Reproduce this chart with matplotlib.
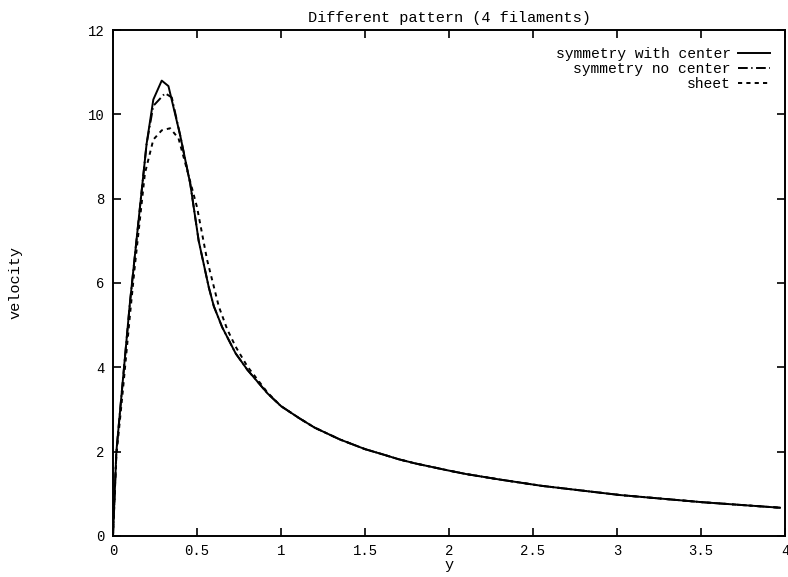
import numpy as np
import matplotlib.pyplot as plt

plt.rcParams['font.family'] = ['Liberation Mono', 'DejaVu Sans Mono']
plt.rcParams['lines.scale_dashes'] = False

# velocity profiles, read at the computed y positions
y_center = [0, 0.02, 0.10, 0.20, 0.24, 0.29, 0.33, 0.40, 0.46, 0.51, 0.57, 0.60,
            0.65, 0.73, 0.80, 0.92, 1.00, 1.11, 1.20, 1.35, 1.50, 1.61, 1.70,
            1.80, 2.00, 2.10, 2.30, 2.55, 3.02, 3.51, 3.97]
v_center = [0, 2.0, 5.5, 9.3, 10.35, 10.8, 10.67, 9.5, 8.35, 7.0, 5.9, 5.45,
            4.95, 4.33, 3.94, 3.38, 3.08, 2.79, 2.57, 2.29, 2.06, 1.93, 1.82,
            1.72, 1.55, 1.47, 1.34, 1.19, 0.97, 0.80, 0.67]

y_nocenter = [0, 0.02, 0.10, 0.20, 0.24, 0.31, 0.35, 0.40, 0.46, 0.51, 0.57, 0.60,
              0.65, 0.73, 0.80, 0.92, 1.00, 1.11, 1.20, 1.35, 1.50, 1.61, 1.70,
              1.80, 2.00, 2.10, 2.30, 2.55, 3.02, 3.51, 3.97]
v_nocenter = [0, 2.0, 5.5, 9.3, 10.2, 10.5, 10.4, 9.5, 8.35, 7.0, 5.9, 5.45,
              4.95, 4.33, 3.94, 3.38, 3.08, 2.79, 2.57, 2.29, 2.06, 1.93, 1.82,
              1.72, 1.55, 1.47, 1.34, 1.19, 0.97, 0.80, 0.67]

y_sheet = [0, 0.02, 0.06, 0.10, 0.13, 0.19, 0.24, 0.29, 0.34, 0.39, 0.46, 0.50,
           0.56, 0.63, 0.68, 0.73, 0.80, 0.92, 1.00, 1.11, 1.20, 1.35, 1.50, 1.61,
           1.70, 1.80, 2.00, 2.10, 2.30, 2.55, 3.02, 3.51, 3.97]
v_sheet = [0, 1.9, 3.5, 5.2, 6.4, 8.6, 9.4, 9.62, 9.67, 9.43, 8.4, 7.8,
           6.55, 5.44, 4.9, 4.49, 4.02, 3.4, 3.08, 2.79, 2.57, 2.29, 2.06, 1.93,
           1.82, 1.72, 1.55, 1.47, 1.34, 1.19, 0.97, 0.80, 0.67]

fig = plt.figure(figsize=(7.88, 5.77), dpi=100)
ax = fig.add_axes([0.1434, 0.0711, 0.8528, 0.8769])

ax.plot(y_center, v_center, color='black', lw=1.4, label='symmetry with center')
ax.plot(y_nocenter, v_nocenter, color='black', lw=1.4, dashes=(7, 2.5, 1, 2.5),
        label='symmetry no center')
ax.plot(y_sheet, v_sheet, color='black', lw=1.4, dashes=(3, 3), label='sheet')

ax.set_xlim(0, 4)
ax.set_ylim(0, 12)
ax.set_xticks([0, 0.5, 1, 1.5, 2, 2.5, 3, 3.5, 4])
ax.set_xticklabels(['0', '0.5', '1', '1.5', '2', '2.5', '3', '3.5', '4'])
ax.set_yticks([0, 2, 4, 6, 8, 10, 12])
ax.tick_params(direction='in', length=6, width=1.2, top=True, right=True,
               labelsize=10, pad=6, colors='black')
for s in ax.spines.values():
    s.set_linewidth(1.4)

ax.set_title('Different pattern (4 filaments)', fontsize=11, pad=6)
ax.set_xlabel('y', fontsize=11, labelpad=0)
ax.set_ylabel('velocity', fontsize=11)
ax.yaxis.set_label_coords(-0.134, 0.5)

leg = ax.legend(loc='upper right', bbox_to_anchor=(0.978, 0.966), frameon=False,
                markerfirst=False, fontsize=10.5, handlelength=2.2,
                handletextpad=0.5, labelspacing=0.05, borderpad=0,
                borderaxespad=0)

fig.savefig('out.png', dpi=100)
